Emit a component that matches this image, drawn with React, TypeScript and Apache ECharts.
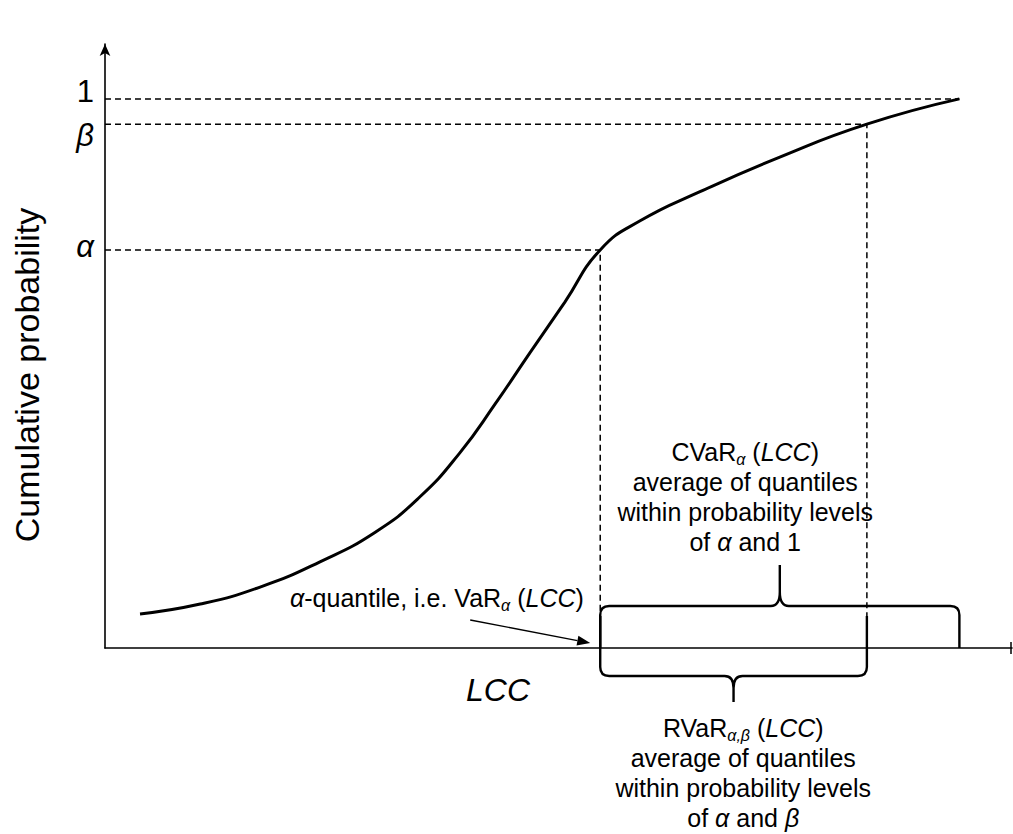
import React, { useEffect, useRef } from "react";
import * as echarts from "echarts";

const FONT = '"Liberation Sans", Arial, Helvetica, sans-serif';

// Cumulative distribution of LCC (x in arbitrary cost units, y = probability)
const curveX = [3.86, 10.5, 17.1, 23.7, 29.8, 34.7, 39.1, 43.0, 46.9, 50.7, 54.6, 59.0, 65.6, 74.4, 84.0, 94.2];
const curveY = [0.062, 0.08, 0.111, 0.157, 0.211, 0.275, 0.355, 0.444, 0.539, 0.63, 0.725, 0.778, 0.831, 0.894, 0.954, 1.0];

// Probability levels and the matching quantiles
const probLevels = [1.0, 0.954, 0.725];
const probLabels = ["1", "β", "α"];
const quantiles = [94.2, 84.0, 54.6]; // LCC at probability 1, β, α

const xTitle = "LCC";
const yTitle = "Cumulative probability";

const quantileNote = "{i|α}-quantile, i.e. VaR{sub|α} ({i|LCC})";
const cvarNote = "CVaR{sub|α} ({i|LCC})\naverage of quantiles\nwithin probability levels\nof {i|α} and 1";
const rvarNote = "RVaR{sub|α,β} ({i|LCC})\naverage of quantiles\nwithin probability levels\nof {i|α} and {i|β}";

// Braces: [from quantile, to quantile, direction] (1 = above axis, -1 = below)
const braceFrom = [quantiles[2], quantiles[2]];
const braceTo = [quantiles[0], quantiles[1]];
const braceDir = [1, -1];

const INK = "#000";

const richStyles = {
  i: { fontStyle: "italic", fontSize: 25, fontFamily: FONT, lineHeight: 30 },
  sub: { fontStyle: "italic", fontSize: 16, fontFamily: FONT, lineHeight: 20, verticalAlign: "bottom" },
};

function bracePath(x0: number, x1: number, axisY: number, dir: number): string {
  const r = 9;
  const xc = (x0 + x1) / 2;
  if (dir > 0) {
    const yb = axisY;
    const yh = axisY - 42;
    const yt = axisY - 83;
    return [
      `M${x0},${yb}`,
      `L${x0},${yh + r}`,
      `Q${x0},${yh} ${x0 + r},${yh}`,
      `L${xc - 9},${yh}`,
      `Q${xc},${yh} ${xc},${yh - 14}`,
      `L${xc},${yt}`,
      `L${xc},${yh - 14}`,
      `Q${xc},${yh} ${xc + 9},${yh}`,
      `L${x1 - r},${yh}`,
      `Q${x1},${yh} ${x1},${yh + r}`,
      `L${x1},${yb}`,
    ].join(" ");
  }
  const yb = axisY - 32;
  const yh = axisY + 28;
  const yt = axisY + 54;
  return [
    `M${x0},${yb}`,
    `L${x0},${yh - r}`,
    `Q${x0},${yh} ${x0 + r},${yh}`,
    `L${xc - 9},${yh}`,
    `Q${xc},${yh} ${xc},${yh + 12}`,
    `L${xc},${yt}`,
    `L${xc},${yh + 12}`,
    `Q${xc},${yh} ${xc + 9},${yh}`,
    `L${x1 - r},${yh}`,
    `Q${x1},${yh} ${x1},${yh - r}`,
    `L${x1},${yb}`,
  ].join(" ");
}

export default function App() {
  const ref = useRef<HTMLDivElement>(null);

  useEffect(() => {
    if (!ref.current) return;
    const chart = echarts.init(ref.current, undefined, { renderer: "svg" });

    const dashStyle = { color: "#000", width: 1.5, type: [6, 4] as number[] };
    const guideSeries = probLevels.map((p, i) => ({
      type: "line",
      silent: true,
      symbol: "none",
      z: 2,
      lineStyle: dashStyle,
      data:
        i === 0
          ? [[0, p], [quantiles[i], p]]
          : [[0, p], [quantiles[i], p], [quantiles[i], 0]],
    }));

    chart.setOption({
      animation: false,
      backgroundColor: "#fff",
      grid: { left: 105, right: 1, top: 44, bottom: 186, containLabel: false, outerBoundsMode: "none" },
      xAxis: {
        type: "value",
        min: 0,
        max: 100,
        axisLine: { show: true, lineStyle: { color: INK, width: 1.6 } },
        axisTick: { show: false },
        axisLabel: { show: false },
        splitLine: { show: false },
      },
      yAxis: {
        type: "value",
        min: 0,
        max: 1.1,
        axisLine: {
          show: true,
          symbol: ["none", "arrow"],
          symbolSize: [8, 12],
          lineStyle: { color: INK, width: 1.6 },
        },
        axisTick: { show: false },
        axisLabel: { show: false },
        splitLine: { show: false },
      },
      series: [
        ...guideSeries,
        {
          type: "line",
          silent: true,
          symbol: "none",
          smooth: 0.5,
          z: 3,
          lineStyle: { color: INK, width: 3 },
          data: curveX.map((x, i) => [x, curveY[i]]),
        },
        {
          type: "custom",
          silent: true,
          clip: false,
          z: 4,
          data: braceFrom.map((x, i) => [x, braceTo[i], braceDir[i]]),
          renderItem: (_params: any, api: any) => {
            const a = api.coord([api.value(0), 0]);
            const b = api.coord([api.value(1), 0]);
            return {
              type: "path",
              shape: { pathData: bracePath(a[0], b[0], a[1], api.value(2)) },
              style: { stroke: INK, fill: "none", lineWidth: 2.4 },
            };
          },
        },
      ],
    });

    const px = (x: number, y: number) => chart.convertToPixel({ gridIndex: 0 }, [x, y]) as number[];
    const origin = px(0, 0);
    const end = px(100, 0);
    const alphaFoot = px(quantiles[2], 0);

    const graphics: any[] = [];

    // probability level labels on the y axis
    const labelOffsets = [-7, 11, -3];
    probLevels.forEach((p, i) => {
      const pt = px(0, p);
      graphics.push({
        type: "text",
        x: pt[0] - 11,
        y: pt[1] + labelOffsets[i],
        style: {
          text: probLabels[i],
          fontSize: 31,
          fontFamily: FONT,
          fontStyle: i === 0 ? "normal" : "italic",
          fill: INK,
          align: "right",
          verticalAlign: "middle",
        },
      });
    });

    // axis titles
    graphics.push({
      type: "text",
      x: origin[0] - 78,
      y: origin[1] - 273,
      rotation: Math.PI / 2,
      style: { text: yTitle, fontSize: 34, fontFamily: FONT, fill: INK, align: "center", verticalAlign: "middle" },
    });
    graphics.push({
      type: "text",
      x: origin[0] + 393,
      y: origin[1] + 42,
      style: { text: xTitle, fontSize: 32, fontFamily: FONT, fontStyle: "italic", fill: INK, align: "center", verticalAlign: "middle" },
    });

    // end mark of the x axis
    graphics.push({
      type: "line",
      shape: { x1: end[0] - 1, y1: end[1] - 6, x2: end[0] - 1, y2: end[1] + 6 },
      style: { stroke: INK, lineWidth: 1.5 },
    });

    // VaR note with arrow
    graphics.push({
      type: "text",
      x: origin[0] + 185,
      y: origin[1] - 50,
      style: {
        text: quantileNote,
        rich: richStyles,
        fontSize: 25,
        fontFamily: FONT,
        lineHeight: 30,
        fill: INK,
        align: "left",
        verticalAlign: "middle",
      },
    });
    const tip = [alphaFoot[0] - 10, alphaFoot[1] - 5];
    const tail = [tip[0] - 120, tip[1] - 23];
    const ang = Math.atan2(tip[1] - tail[1], tip[0] - tail[0]);
    const hl = 13;
    const hw = 5;
    const base = [tip[0] - hl * Math.cos(ang), tip[1] - hl * Math.sin(ang)];
    graphics.push({
      type: "line",
      shape: { x1: tail[0], y1: tail[1], x2: base[0], y2: base[1] },
      style: { stroke: INK, lineWidth: 1.3 },
    });
    graphics.push({
      type: "polygon",
      shape: {
        points: [
          tip,
          [base[0] + hw * Math.sin(ang), base[1] - hw * Math.cos(ang)],
          [base[0] - hw * Math.sin(ang), base[1] + hw * Math.cos(ang)],
        ],
      },
      style: { fill: INK },
    });

    // brace notes
    graphics.push({
      type: "text",
      x: alphaFoot[0] + 145,
      y: alphaFoot[1] - 151,
      style: {
        text: cvarNote,
        rich: richStyles,
        fontSize: 25,
        fontFamily: FONT,
        lineHeight: 30,
        fill: INK,
        align: "center",
        verticalAlign: "middle",
      },
    });
    graphics.push({
      type: "text",
      x: alphaFoot[0] + 143,
      y: alphaFoot[1] + 125,
      style: {
        text: rvarNote,
        rich: richStyles,
        fontSize: 25,
        fontFamily: FONT,
        lineHeight: 30,
        fill: INK,
        align: "center",
        verticalAlign: "middle",
      },
    });

    chart.setOption({ graphic: graphics });

    return () => chart.dispose();
  }, []);

  return (
    <div
      ref={ref}
      style={{ position: "fixed", left: 0, top: 0, width: 1013, height: 834, background: "#fff" }}
    />
  );
}
